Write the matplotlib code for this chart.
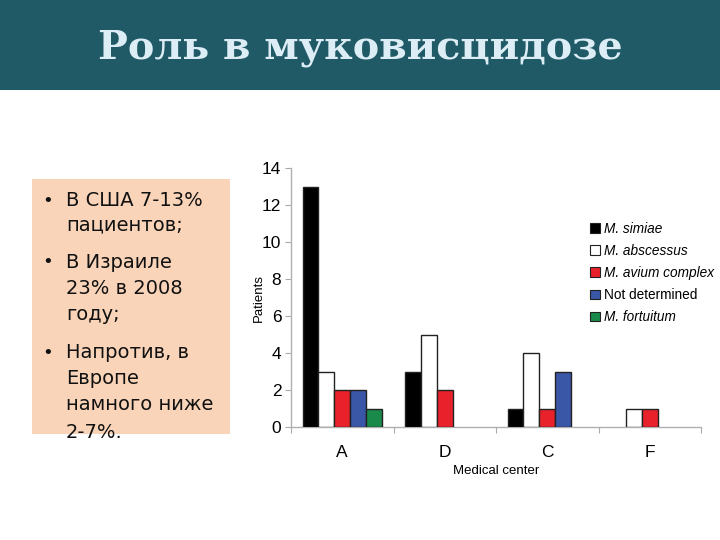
import matplotlib
matplotlib.use("Agg")
import matplotlib.pyplot as plt
import numpy as np
from matplotlib.patches import Rectangle, Patch

centers = ["A", "D", "C", "F"]
series = ["M. simiae", "M. abscessus", "M. avium complex", "Not determined", "M. fortuitum"]
italic = [True, True, True, False, True]
colors = ["#000000", "#ffffff", "#e8212b", "#3a56a6", "#1a8a4a"]
values = [
    [13, 3, 1, 0],   # M. simiae
    [3, 5, 4, 1],    # M. abscessus
    [2, 2, 1, 1],    # M. avium complex
    [2, 0, 3, 0],    # Not determined
    [1, 0, 0, 0],    # M. fortuitum
]
yticks = [0, 2, 4, 6, 8, 10, 12, 14]

title = "Роль в муковисцидозе"
bullets = [
    ["В США 7-13%", "пациентов;"],
    ["В Израиле", "23% в 2008", "году;"],
    ["Напротив, в", "Европе", "намного ниже", "2-7%."],
]

fig = plt.figure(figsize=(7.2, 5.4), dpi=100)
fig.patch.set_facecolor("white")

# banner
fig.add_artist(Rectangle((0, 1 - 90 / 540), 1, 90 / 540, transform=fig.transFigure,
                         facecolor="#215a67", edgecolor="none", zorder=0))
fig.text(0.5, 1 - 48 / 540, title, ha="center", va="center", fontsize=28.5,
         fontweight="bold", family="DejaVu Serif", color="#dcedf6")

# text box
fig.add_artist(Rectangle((32 / 720, 1 - 434 / 540), 198 / 720, 255 / 540,
                         transform=fig.transFigure, facecolor="#f9d4b9",
                         edgecolor="none", zorder=0))
line_y = [[201, 225], [262, 288, 314], [353, 379, 404, 432]]
for para, ys in zip(bullets, line_y):
    fig.text(48 / 720, 1 - ys[0] / 540, "•", ha="center", va="center",
             fontsize=13, family="DejaVu Sans", color="#111111")
    for txt, y in zip(para, ys):
        fig.text(66 / 720, 1 - y / 540, txt, ha="left", va="center",
                 fontsize=14, family="DejaVu Sans", color="#111111")

# chart
ax = fig.add_axes([291 / 720, 1 - 427 / 540, 410 / 720, 259 / 540])
n = len(series)
w = 0.155
x = np.arange(len(centers)) + 0.5
for i, (s, c, vals) in enumerate(zip(series, colors, values)):
    offs = (i - (n - 1) / 2) * w
    xs = [xx + offs for xx, v in zip(x, vals) if v > 0]
    vs = [v for v in vals if v > 0]
    ax.bar(xs, vs, width=w, color=c, edgecolor="#222222", linewidth=1.0, zorder=3)

ax.set_xlim(0, len(centers))
ax.set_ylim(0, 14)
ax.set_yticks(yticks)
ax.set_yticklabels([str(t) for t in yticks], fontsize=12.5, family="Liberation Sans")
ax.set_xticks(np.arange(len(centers) + 1))
ax.set_xticklabels([])
ax.set_xticks(x, minor=True)
ax.set_xticklabels(centers, minor=True, fontsize=12.5, family="Liberation Sans")
ax.tick_params(axis="x", which="minor", length=0, pad=13)
ax.tick_params(axis="x", which="major", length=4, color="#aaaaaa")
ax.tick_params(axis="y", length=4, color="#aaaaaa", pad=3)
for sp in ["top", "right"]:
    ax.spines[sp].set_visible(False)
for sp in ["left", "bottom"]:
    ax.spines[sp].set_color("#b0b0b0")
    ax.spines[sp].set_linewidth(1.0)
ax.set_xlabel("Medical center", fontsize=9.5, family="Liberation Sans")
ax.xaxis.set_label_coords(0.5, -38 / 259)
ax.set_ylabel("Patients", fontsize=9.5, family="Liberation Sans")
ax.yaxis.set_label_coords(-26 / 410, 0.5)

# legend
handles = [Patch(facecolor=c, edgecolor="#222222", linewidth=0.8) for c in colors]
leg = ax.legend(handles, series, loc="upper left", bbox_to_anchor=(0.7, 0.84),
                frameon=False, handlelength=0.7, handleheight=0.7,
                handletextpad=0.3, labelspacing=0.6,
                prop={"family": "Liberation Sans", "size": 9.8})
for t, it in zip(leg.get_texts(), italic):
    if it:
        t.set_fontstyle("italic")

fig.savefig("out.png", dpi=100)
